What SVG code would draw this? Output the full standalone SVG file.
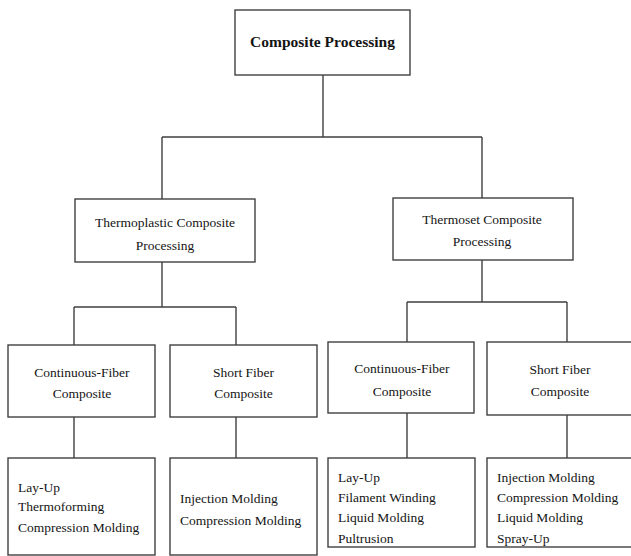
<svg xmlns="http://www.w3.org/2000/svg" width="631" height="556" viewBox="0 0 631 556">
<style>
.box{fill:#fff;stroke:#404040;stroke-width:1.4}
.ln{fill:none;stroke:#404040;stroke-width:1.4}
text{font-family:"Liberation Serif","Times New Roman",serif;font-size:13.5px;fill:#141414}
.c{text-anchor:middle}
.t{font-size:15.5px;font-weight:bold}
</style>
<rect width="631" height="556" fill="#fff"/>
<g id="connectors">
<path class="ln" d="M323 75V137M162 137H482M162 137V199M482 137V198"/>
<path class="ln" d="M162 262V307M74 307H236M74 307V345M236 307V345"/>
<path class="ln" d="M482 260V302M407 302H567M407 302V342M567 302V342"/>
<path class="ln" d="M74 417V458M236 417V458M407 413V458M567 415V458"/>
</g>
<g id="root"><rect class="box" x="235" y="10" width="175" height="65"/><text class="c t" x="322.5" y="47">Composite Processing</text></g>
<g id="thermoplastic"><rect class="box" x="75" y="199" width="180" height="63"/><text class="c" x="165" y="227">Thermoplastic Composite</text><text class="c" x="165" y="250">Processing</text></g>
<g id="thermoset"><rect class="box" x="393" y="198" width="180" height="62"/><text class="c" x="482" y="224">Thermoset Composite</text><text class="c" x="482" y="246">Processing</text></g>
<g id="tp-continuous"><rect class="box" x="8" y="345" width="147" height="72"/><text class="c" x="82" y="377">Continuous-Fiber</text><text class="c" x="82" y="398">Composite</text></g>
<g id="tp-short"><rect class="box" x="170" y="345" width="147" height="72"/><text class="c" x="243.5" y="377">Short Fiber</text><text class="c" x="243.5" y="398">Composite</text></g>
<g id="ts-continuous"><rect class="box" x="328" y="342" width="146" height="71"/><text class="c" x="402" y="373">Continuous-Fiber</text><text class="c" x="402" y="396">Composite</text></g>
<g id="ts-short"><rect class="box" x="487" y="342" width="146" height="73"/><text class="c" x="560" y="374">Short Fiber</text><text class="c" x="560" y="396">Composite</text></g>
<g id="tp-continuous-methods"><rect class="box" x="8" y="458" width="147" height="97"/><text x="18" y="492">Lay-Up</text><text x="18" y="511">Thermoforming</text><text x="18" y="532">Compression Molding</text></g>
<g id="tp-short-methods"><rect class="box" x="170" y="458" width="147" height="97"/><text x="180" y="503">Injection Molding</text><text x="180" y="525">Compression Molding</text></g>
<g id="ts-continuous-methods"><rect class="box" x="328" y="458" width="147" height="89"/><text x="338" y="482">Lay-Up</text><text x="338" y="502">Filament Winding</text><text x="338" y="522">Liquid Molding</text><text x="338" y="543">Pultrusion</text></g>
<g id="ts-short-methods"><rect class="box" x="487" y="458" width="146" height="89"/><text x="497" y="482">Injection Molding</text><text x="497" y="502">Compression Molding</text><text x="497" y="522">Liquid Molding</text><text x="497" y="543">Spray-Up</text></g>
</svg>
